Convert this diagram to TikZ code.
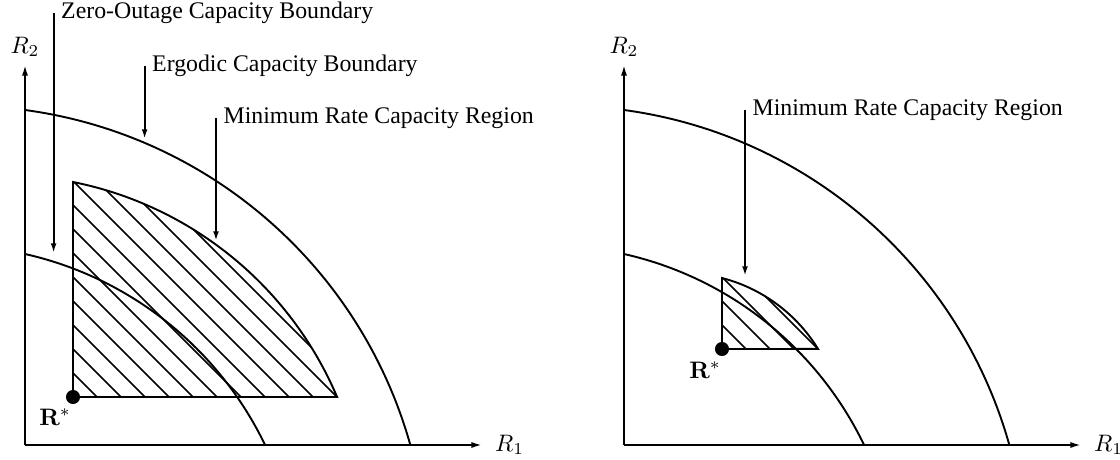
\documentclass[tikz,border=0pt]{standalone}
\usepackage[no-math]{fontspec}
\setmainfont{Liberation Serif}
\usetikzlibrary{arrows.meta, positioning, calc}

\tikzset{
  axis/.style={line width=0.8pt, -{Latex[length=4.5pt,width=2.6pt]}},
  bound/.style={line width=0.8pt},
  pointer/.style={line width=0.8pt, -{Latex[length=4pt,width=2.4pt]}},
  hatch/.style={line width=0.6pt},
  lbl/.style={anchor=west, inner sep=3pt},
  rdot/.style={circle, fill=black, inner sep=0pt, minimum size=5.9pt},
}

\begin{document}
\begin{tikzpicture}[x=0.42pt, y=0.42pt]
\useasboundingbox (0,0) rectangle (1120,459);

% left panel: ergodic and zero-outage boundaries
\begin{scope}[shift={(25,14)}]
  \coordinate (lo) at (0,0);
  \coordinate (lx) at (457,0);
  \coordinate (ly) at (0,380);
  \draw[axis] (lo) -- (lx);
  \draw[axis] (lo) -- (ly);
  \node[anchor=west, xshift=2pt] (lr1) at (lx) {$R_1$};
  \node[anchor=south] (lr2) at (ly) {$R_2$};

  \draw[bound] (0,335) arc[start angle=82.3, end angle=15.7, radius=465];
  \draw[bound] (0,191) arc[start angle=77.3, end angle=25.7, radius=352.4];

  % minimum rate region, hatched
  \begin{scope}
    \clip (48,48) -- (48,263) arc[start angle=78.7, end angle=23.0, radius=364.5] -- cycle;
    \foreach \k in {1,...,17}
      \draw[hatch] (48+24*\k,48) -- ++(-320,320);
  \end{scope}
  \draw[bound] (48,48) -- (48,263) arc[start angle=78.7, end angle=23.0, radius=364.5] -- cycle;

  \node[rdot] (lrs) at (48,48) {};
  \node (lrsl) at ($(lrs)+(-18,-20)$) {$\mathbf{R}^*$};

  \node[lbl] (lzo) at (28.6,431.7) {Zero-Outage Capacity Boundary};
  \coordinate (lzot) at (28.6,192);
  \draw[pointer] (lzo.west) -- (lzot);

  \node[lbl] (leg) at (119.6,379) {Ergodic Capacity Boundary};
  \coordinate (legt) at (119.6,306);
  \draw[pointer] (leg.west) -- (legt);

  \node[lbl] (lmr) at (191,327) {Minimum Rate Capacity Region};
  \coordinate (lmrt) at (191,204);
  \draw[pointer] (lmr.west) -- (lmrt);
\end{scope}

% right panel: larger R*
\begin{scope}[shift={(624,14)}]
  \coordinate (ro) at (0,0);
  \coordinate (rx) at (457,0);
  \coordinate (ry) at (0,380);
  \draw[axis] (ro) -- (rx);
  \draw[axis] (ro) -- (ry);
  \node[anchor=west, xshift=2pt] (rr1) at (rx) {$R_1$};
  \node[anchor=south] (rr2) at (ry) {$R_2$};

  \draw[bound] (0,335) arc[start angle=82.3, end angle=15.7, radius=465];
  \draw[bound] (0,191) arc[start angle=77.3, end angle=25.7, radius=352.4];

  \begin{scope}
    \clip (98,96) -- (98,167) arc[start angle=75.5, end angle=31.6, radius=159.7] -- cycle;
    \foreach \k in {1,...,8}
      \draw[hatch] (98+24*\k,96) -- ++(-200,200);
  \end{scope}
  \draw[bound] (98,96) -- (98,167) arc[start angle=75.5, end angle=31.6, radius=159.7] -- cycle;

  \node[rdot] (rrs) at (98,96) {};
  \node (rrsl) at ($(rrs)+(-17,-21)$) {$\mathbf{R}^*$};

  \node[lbl] (rmr) at (121,335) {Minimum Rate Capacity Region};
  \coordinate (rmrt) at (121,169);
  \draw[pointer] (rmr.west) -- (rmrt);
\end{scope}
\end{tikzpicture}
\end{document}
